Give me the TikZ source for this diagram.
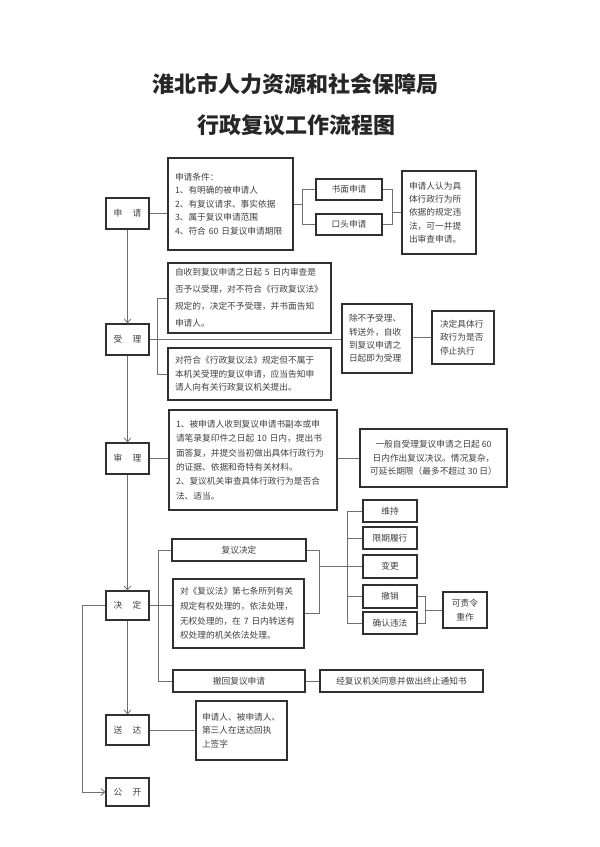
\documentclass[tikz,border=0pt]{standalone}
\usepackage{fontspec}
\newfontfamily\cjk{Noto Sans CJK SC}
\usetikzlibrary{arrows.meta}
\definecolor{txt}{HTML}{404040}
\definecolor{bord}{HTML}{303030}
\definecolor{lin}{HTML}{707070}
\begin{document}
\begin{tikzpicture}[x=1pt,y=-1pt,
  box/.style={draw=bord, line width=1.2pt, fill=white, inner sep=0pt, text=txt,
    font=\cjk\fontsize{8.7}{13.4}\selectfont},
  tbox/.style={box, align=left},
  lab/.style={box, minimum width=43pt},
  conn/.style={draw=lin, line width=0.8pt},
  arr/.style={conn, -{Straight Barb[length=4pt,width=7pt]}},
  ttl/.style={inner sep=0pt, text=black!85, font=\cjk\bfseries\fontsize{22}{26}\selectfont}
]
\useasboundingbox (0,0) rectangle (600,847);
\fill[white] (0,0) rectangle (600,847);

% title
\node[ttl] (t1) at (295.5,84) {淮北市人力资源和社会保障局};
\node[ttl] (t2) at (296.5,125) {行政复议工作流程图};

% left column
\node[lab, minimum height=31pt] (shen) at (127.5,213.5) {申\hspace{1.2em}请};
\node[lab, minimum height=31pt] (shouli) at (127.5,339.5) {受\hspace{1.2em}理};
\node[lab, minimum height=31pt] (shenli) at (127.5,458.5) {审\hspace{1.2em}理};
\node[lab, minimum height=29pt] (jueding) at (127.5,605.5) {决\hspace{1.2em}定};
\node[lab, minimum height=30pt] (songda) at (127.5,730) {送\hspace{1.2em}达};
\node[lab, minimum height=28pt] (gongkai) at (127.5,792) {公\hspace{1.2em}开};

% 申请
\node[tbox, minimum width=125pt, minimum height=92pt, text width=111pt] (cond) at (230.5,204)
  {申请条件：\\1、有明确的被申请人\\2、有复议请求、事实依据\\3、属于复议申请范围\\4、符合~60~日复议申请期限};
\node[box, minimum width=66pt, minimum height=21pt] (shumian) at (349,189.5) {书面申请};
\node[box, minimum width=66pt, minimum height=21pt] (koutou) at (349,224.5) {口头申请};
\node[tbox, minimum width=74pt, minimum height=83pt, text width=60pt] (rightA) at (439,212.5)
  {申请人认为具\\体行政行为所\\依据的规定违\\法，可一并提\\出审查申请。};

% 受理
\node[tbox, minimum width=163pt, minimum height=70pt, text width=149pt,
  font=\cjk\fontsize{8.7}{17}\selectfont] (boxA) at (249.5,298)
  {自收到复议申请之日起~5~日内审查是\\否予以受理，对不符合《行政复议法》\\规定的，决定不予受理，并书面告知\\申请人。};
\node[tbox, minimum width=163pt, minimum height=52pt, text width=149pt] (boxB) at (249.5,374)
  {对符合《行政复议法》规定但不属于\\本机关受理的复议申请，应当告知申\\请人向有关行政复议机关提出。};
\node[tbox, minimum width=70pt, minimum height=69pt, text width=56pt] (boxC) at (377,338.5)
  {除不予受理、\\转送外，自收\\到复议申请之\\日起即为受理};
\node[tbox, minimum width=62pt, minimum height=53pt, text width=46pt] (boxD) at (463,337.5)
  {决定具体行\\政行为是否\\停止执行};

% 审理
\node[tbox, minimum width=168pt, minimum height=100pt, text width=154pt,
  font=\cjk\fontsize{8.7}{14.3}\selectfont] (boxE) at (253,460)
  {1、被申请人收到复议申请书副本或申\\请笔录复印件之日起~10~日内，提出书\\面答复，并提交当初做出具体行政行为\\的证据、依据和奇特有关材料。\\2、复议机关审查具体行政行为是否合\\法、适当。};
\node[box, align=center, minimum width=147pt, minimum height=58pt] (boxF) at (433.5,458)
  {一般自受理复议申请之日起~60\\日内作出复议决议。情况复杂，\\可延长期限（最多不超过~30~日）};

% 决定
\node[box, minimum width=134pt, minimum height=22pt] (fuyi) at (239,550) {复议决定};
\node[tbox, minimum width=131pt, minimum height=69pt, text width=117pt,
  font=\cjk\fontsize{8.7}{14.7}\selectfont] (boxG) at (238.5,613.5)
  {对《复议法》第七条所列有关\\规定有权处理的，依法处理，\\无权处理的，在~7~日内转送有\\权处理的机关依法处理。};
\node[box, minimum width=132pt, minimum height=22pt] (chehui) at (239,681) {撤回复议申请};
\node[box, minimum width=163pt, minimum height=22pt] (jing) at (401.5,681) {经复议机关同意并做出终止通知书};
\node[box, minimum width=54pt, minimum height=22pt] (weichi) at (390,511) {维持};
\node[box, minimum width=54pt, minimum height=22pt] (xianqi) at (390,538) {限期履行};
\node[box, minimum width=54pt, minimum height=23pt] (biangeng) at (390,566.5) {变更};
\node[box, minimum width=54pt, minimum height=23pt] (chexiao) at (390,596.5) {撤销};
\node[box, minimum width=54pt, minimum height=22pt] (queren) at (390,623) {确认违法};
\node[box, align=center, minimum width=44pt, minimum height=36pt] (kezeling) at (465,610) {可责令\\重作};

% 送达
\node[tbox, minimum width=91pt, minimum height=59pt, text width=79pt] (boxH) at (241.5,730.5)
  {申请人、被申请人、\\第三人在送达回执\\上签字};

% joint coordinates
\coordinate (j1) at (303,0);
\coordinate (j2) at (392,0);
\coordinate (m1) at (319,0);
\coordinate (m3) at (425,0);

% main flow
\draw[arr] (shen.south) -- (shouli.north);
\draw[arr] (shouli.south) -- (shenli.north);
\draw[arr] (shenli.south) -- (jueding.north);
\draw[arr] (jueding.south) -- (songda.north);
\draw[arr] (jueding.west) -- ++(-23,0) |- (gongkai.west);

% 申请 connectors
\draw[conn] (shen.east) -- (shen.east -| cond.west);
\draw[conn] (cond.east) -- (cond.east -| j1);
\draw[conn] (shumian.west) -- ++(-13,0) |- (koutou.west);
\draw[conn] (shumian.east) -- ++(10,0) |- (koutou.east);
\draw[conn] (rightA.west) -- (rightA.west -| j2);

% 受理 connectors
\draw[conn] (shouli.east) -- (shouli.east -| boxC.west);
\draw[conn] (boxA.west) -- ++(-10,0) |- (boxB.west);
\draw[conn] (boxC.east |- boxD.west) -- (boxD.west);

% 审理 connectors
\draw[conn] (shenli.east) -- (shenli.east -| boxE.west);
\draw[conn] (boxF.west -| boxE.east) -- (boxF.west);

% 决定 connectors
\draw[conn] (jueding.east) -- (jueding.east -| boxG.west);
\draw[conn] (fuyi.west) -- ++(-13,0) |- (chehui.west);
\draw[conn] (fuyi.east) -- ++(13,0) |- (boxG.east);
\draw[conn] (biangeng.west -| m1) -- (biangeng.west);
\draw[conn] (weichi.west) -- ++(-15,0) |- (queren.west);
\draw[conn] (xianqi.west) -- ++(-15,0);
\draw[conn] (chexiao.west) -- ++(-15,0);
\draw[conn] (chexiao.east) -- ++(8,0) |- (queren.east);
\draw[conn] (kezeling.west) -- (kezeling.west -| m3);
\draw[conn] (chehui.east) -- (jing.west);

% 送达 connector
\draw[conn] (songda.east) -- (songda.east -| boxH.west);
\end{tikzpicture}
\end{document}
